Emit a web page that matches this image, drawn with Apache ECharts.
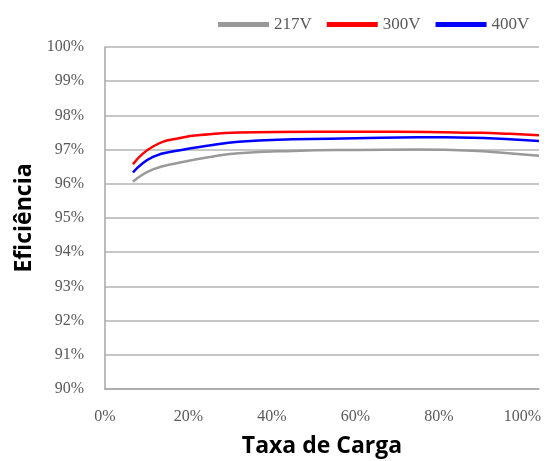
<!DOCTYPE html>
<html>
<head>
<meta charset="utf-8">
<script src="https://cdn.jsdelivr.net/npm/echarts@6/dist/echarts.min.js"></script>
<style>
  html, body { margin: 0; padding: 0; background: #fff; }
  #chart { width: 550px; height: 461px; }
</style>
</head>
<body>
<div id="chart"></div>
<script>
// dados (x = taxa de carga %, y = eficiência %)
var seriesNames = ['217V', '300V', '400V'];
var seriesColors = ['#999999', '#ff0000', '#0000ff'];

var data217 = [
    [6.7, 96.06], [11.5, 96.42], [18, 96.62], [25, 96.78], [32, 96.89], [45, 96.96],
    [60, 96.99], [75, 97.0], [88, 96.97], [96, 96.9], [104, 96.82]
];
var data300 = [
    [6.7, 96.57], [11.5, 97.09], [18, 97.34], [25, 97.45], [32, 97.5], [50, 97.52],
    [70, 97.52], [90, 97.49], [97, 97.46], [104, 97.42]
];
var data400 = [
    [6.7, 96.33], [11.5, 96.79], [18, 96.98], [25, 97.12], [32, 97.23], [45, 97.3],
    [60, 97.33], [75, 97.36], [88, 97.35], [96, 97.31], [104, 97.25]
];

var myChart = echarts.init(document.getElementById('chart'));

var serifFont = '"Liberation Serif", "Times New Roman", serif';
var nameFont = {
    fontFamily: '"Open Sans", "Noto Sans", sans-serif',
    fontWeight: 'bold',
    fontSize: 23,
    color: '#000'
};

var option = {
    animation: false,
    legend: {
        top: 11,
        left: 213,
        itemWidth: 51,
        itemHeight: 5,
        itemGap: 15,
        icon: 'rect',
        textStyle: { fontFamily: serifFont, fontSize: 17, color: '#595959' },
        data: seriesNames
    },
    grid: {
        left: 105,
        right: 11,
        top: 47,
        bottom: 72,
        containLabel: false,
        outerBoundsMode: 'none'
    },
    xAxis: {
        type: 'value',
        min: 0,
        max: 104,
        interval: 20,
        name: 'Taxa de Carga',
        nameLocation: 'middle',
        nameGap: 46,
        nameTextStyle: nameFont,
        axisLine: { show: true, lineStyle: { color: '#a6a6a6', width: 1.5 } },
        axisTick: { show: false },
        splitLine: { show: false },
        axisLabel: {
            margin: 20,
            fontFamily: serifFont,
            fontSize: 16,
            color: '#595959',
            formatter: function (v) {
                return v % 20 === 0 ? v + '%' : '';
            }
        }
    },
    yAxis: {
        type: 'value',
        min: 90,
        max: 100,
        interval: 1,
        name: 'Eficiência',
        nameLocation: 'middle',
        nameGap: 68,
        nameTextStyle: nameFont,
        axisLine: { show: true, lineStyle: { color: '#a6a6a6', width: 1.5 } },
        axisTick: { show: false },
        splitLine: { show: true, lineStyle: { color: '#b3b3b3', width: 1.5 } },
        axisLabel: {
            margin: 21,
            fontFamily: serifFont,
            fontSize: 16,
            color: '#595959',
            formatter: '{value}%'
        }
    },
    series: [
        {
            name: seriesNames[0],
            type: 'line',
            smooth: true,
            showSymbol: false,
            data: data217,
            lineStyle: { color: seriesColors[0], width: 2.5 },
            itemStyle: { color: seriesColors[0] }
        },
        {
            name: seriesNames[1],
            type: 'line',
            smooth: true,
            showSymbol: false,
            data: data300,
            lineStyle: { color: seriesColors[1], width: 2.5 },
            itemStyle: { color: seriesColors[1] }
        },
        {
            name: seriesNames[2],
            type: 'line',
            smooth: true,
            showSymbol: false,
            data: data400,
            lineStyle: { color: seriesColors[2], width: 2.5 },
            itemStyle: { color: seriesColors[2] }
        }
    ]
};

myChart.setOption(option);

window.onresize = function () {
    myChart.resize();
};
</script>
</body>
</html>
